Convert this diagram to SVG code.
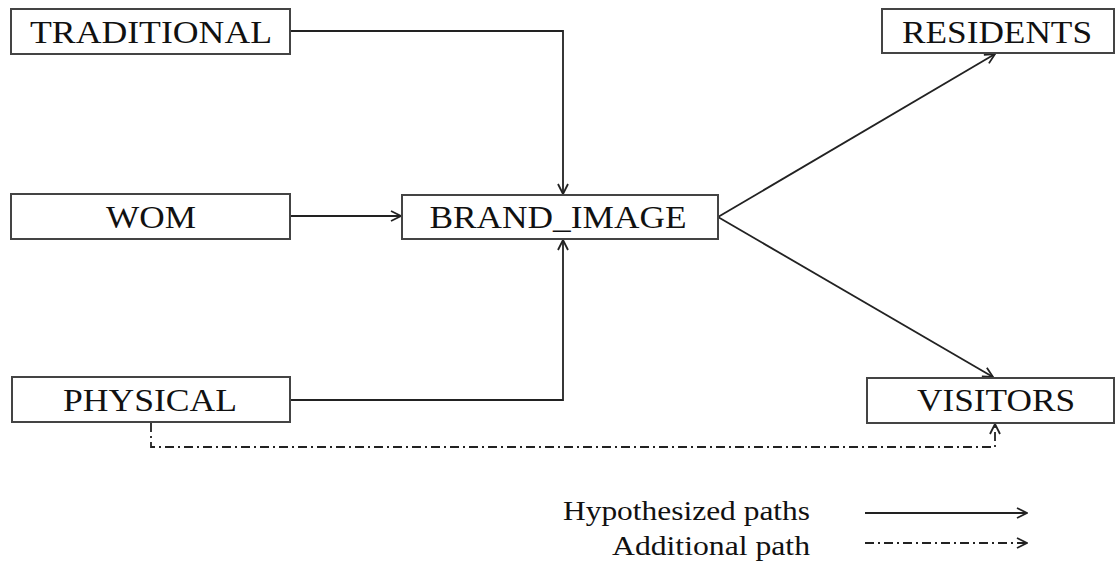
<svg xmlns="http://www.w3.org/2000/svg" width="1116" height="565" viewBox="0 0 1116 565">
<style>
.box{fill:#fff;stroke:#444;stroke-width:2}
.lbl{font-family:"Liberation Serif","Times New Roman",serif;font-size:32px;fill:#111;text-anchor:middle}
.leg{font-family:"Liberation Serif","Times New Roman",serif;font-size:28px;fill:#111;text-anchor:end}
.c{fill:none;stroke:#222;stroke-width:1.8}
.d{fill:none;stroke:#222;stroke-width:1.8;stroke-dasharray:9,4,2,4}
</style>
<defs>
<marker id="ah" viewBox="0 0 12 12" refX="11" refY="6" markerWidth="12" markerHeight="12" markerUnits="userSpaceOnUse" orient="auto">
<path d="M1,1 L11,6 L1,11" fill="none" stroke="#222" stroke-width="1.8"/>
</marker>
</defs>
<g id="connectors">
<path class="c" d="M290,31 H563 V194" marker-end="url(#ah)"/>
<path class="c" d="M290,216 H401" marker-end="url(#ah)"/>
<path class="c" d="M290,400 H563 V240" marker-end="url(#ah)"/>
<path class="c" d="M718,217 L995,54" marker-end="url(#ah)"/>
<path class="c" d="M718,217 L993,377" marker-end="url(#ah)"/>
<path class="d" d="M151,423 V447 H995 V424" marker-end="url(#ah)"/>
</g>
<g id="node-traditional">
<rect class="box" x="11" y="9" width="279" height="45"/>
<text class="lbl" x="151" y="43" textLength="242" lengthAdjust="spacingAndGlyphs">TRADITIONAL</text>
</g>
<g id="node-wom">
<rect class="box" x="11" y="194" width="279" height="45"/>
<text class="lbl" x="151" y="228" textLength="90" lengthAdjust="spacingAndGlyphs">WOM</text>
</g>
<g id="node-physical">
<rect class="box" x="12" y="377" width="278" height="45"/>
<text class="lbl" x="150" y="411" textLength="174" lengthAdjust="spacingAndGlyphs">PHYSICAL</text>
</g>
<g id="node-brand-image">
<rect class="box" x="402" y="195" width="316" height="44"/>
<text class="lbl" x="558" y="228" textLength="257" lengthAdjust="spacingAndGlyphs">BRAND_IMAGE</text>
</g>
<g id="node-residents">
<rect class="box" x="882" y="9" width="232" height="44"/>
<text class="lbl" x="997" y="43" textLength="190" lengthAdjust="spacingAndGlyphs">RESIDENTS</text>
</g>
<g id="node-visitors">
<rect class="box" x="867" y="378" width="247" height="45"/>
<text class="lbl" x="996" y="411" textLength="158" lengthAdjust="spacingAndGlyphs">VISITORS</text>
</g>
<g id="legend">
<text class="leg" x="810" y="520" textLength="247" lengthAdjust="spacingAndGlyphs">Hypothesized paths</text>
<text class="leg" x="810" y="555" textLength="198" lengthAdjust="spacingAndGlyphs">Additional path</text>
<path class="c" d="M865,513 H1027" marker-end="url(#ah)"/>
<path class="d" d="M865,543 H1027" marker-end="url(#ah)"/>
</g>
</svg>
